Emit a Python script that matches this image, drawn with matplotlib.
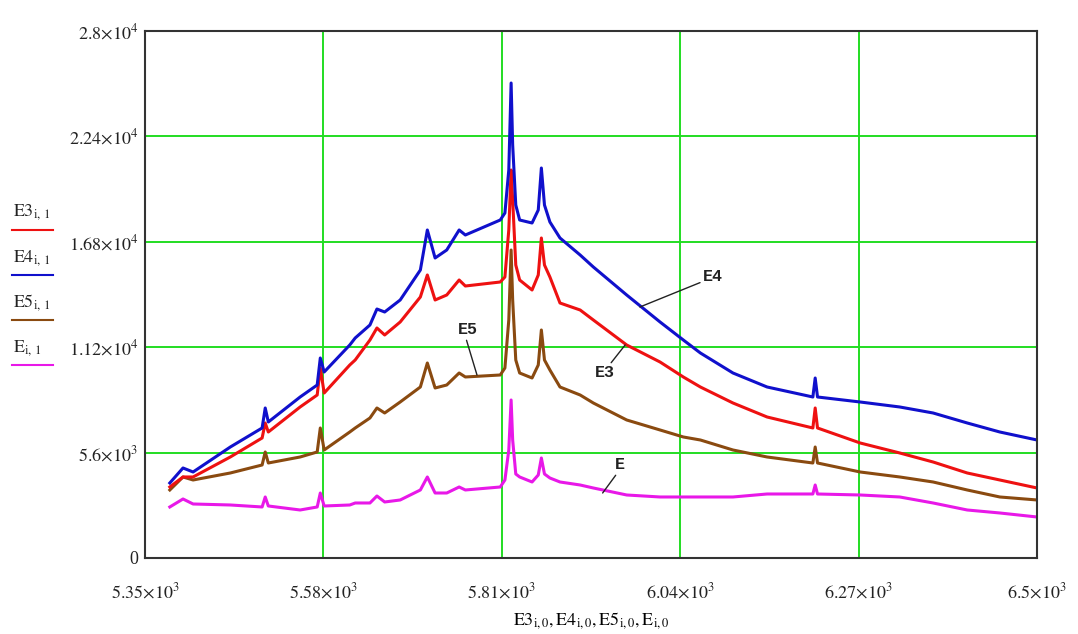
import matplotlib
matplotlib.use("Agg")
import matplotlib.pyplot as plt
from matplotlib.lines import Line2D
import numpy as np

# wavelength axis (shared by all four spectra)
wl = [5382, 5399, 5412, 5460, 5501, 5505, 5509, 5550, 5572, 5576, 5581,
      5614, 5621, 5640, 5649, 5659, 5679, 5705, 5714, 5724, 5739, 5755,
      5763, 5808, 5814, 5819, 5822, 5824, 5828, 5833, 5849, 5857, 5861,
      5865, 5872, 5885, 5911, 5928, 5971, 6014, 6044, 6066, 6108, 6152,
      6211, 6214, 6217, 6272, 6323, 6366, 6410, 6452, 6500]

e3 = [3772, 4304, 4304, 5366, 6376, 7173, 6694, 8023, 8660, 10095, 8766,
      10254, 10520, 11582, 12220, 11848, 12539, 13867, 15036, 13708, 13973, 14770,
      14451, 14664, 14930, 17427, 20614, 19021, 15567, 14770, 14239, 15036, 17002,
      15567, 14930, 13548, 13176, 12645, 11317, 10413, 9617, 9085, 8235, 7491,
      6907, 7970, 6907, 6110, 5579, 5100, 4516, 4144, 3719]

e4 = [3985, 4782, 4569, 5897, 6907, 7970, 7226, 8554, 9191, 10626, 9882,
      11317, 11689, 12379, 13229, 13070, 13708, 15301, 17427, 15939, 16364, 17427,
      17161, 17958, 18330, 20614, 25237, 21943, 18755, 17958, 17799, 18489, 20721,
      18755, 17852, 17002, 16098, 15461, 13973, 12539, 11582, 10892, 9829, 9085,
      8554, 9563, 8554, 8288, 8023, 7704, 7173, 6694, 6269]

e5 = [3613, 4304, 4144, 4516, 4941, 5632, 5047, 5366, 5632, 6907, 5738,
      6694, 6907, 7438, 7970, 7704, 8288, 9085, 10360, 9032, 9191, 9829,
      9617, 9723, 10095, 12645, 16364, 13708, 10520, 9829, 9563, 10254, 12114,
      10520, 9988, 9085, 8660, 8235, 7332, 6801, 6429, 6269, 5738, 5366,
      5047, 5897, 5047, 4569, 4304, 4038, 3613, 3241, 3082]

e = [2710, 3135, 2869, 2816, 2710, 3241, 2763, 2550, 2710, 3453, 2763,
     2816, 2922, 2922, 3294, 2975, 3082, 3613, 4304, 3453, 3453, 3772,
     3613, 3772, 4144, 5738, 8395, 6269, 4463, 4304, 4038, 4410, 5313,
     4463, 4250, 4038, 3878, 3719, 3347, 3241, 3241, 3241, 3241, 3400,
     3400, 3878, 3400, 3347, 3241, 2922, 2550, 2391, 2178]

x_ticks = [5350, 5580, 5810, 6040, 6270, 6500]
x_tick_labels = ["5.35", "5.58", "5.81", "6.04", "6.27", "6.5"]
y_ticks = [0, 5600, 11200, 16800, 22400, 28000]
y_tick_labels = ["0", "5.6", "1.12", "1.68", "2.24", "2.8"]
y_tick_exp = [None, 3, 4, 4, 4, 4]

names = ["E3", "E4", "E5", "E"]
colors = ["#ee1111", "#1010cc", "#8a4a10", "#e818e8"]

plt.rcParams["font.family"] = ["Liberation Serif", "DejaVu Serif"]
plt.rcParams["mathtext.fontset"] = "stix"

fig = plt.figure(figsize=(10.78, 6.34), dpi=100)
ax = fig.add_axes([0.1345, 0.1199, 0.8275, 0.8312])

# draw the spectra, back to front like the original
for series, c in zip([e, e5, e3, e4], [colors[3], colors[2], colors[0], colors[1]]):
    ax.plot(wl, series, color=c, lw=2.2)

ax.set_xlim(5350, 6500)
ax.set_ylim(0, 28000)
ax.set_xticks(x_ticks)
ax.set_yticks(y_ticks)
ax.set_xticklabels([r"$%s{\times}10^{3}$" % t for t in x_tick_labels])
ylabs = []
for t, p in zip(y_tick_labels, y_tick_exp):
    ylabs.append(t if p is None else r"$%s{\times}10^{%d}$" % (t, p))
ax.set_yticklabels(ylabs)
ax.tick_params(length=0, labelsize=13, colors="#222222")
ax.tick_params(axis="x", pad=17)
ax.tick_params(axis="y", pad=5)
ax.grid(True, color="#22dd22", lw=1.4)
ax.set_axisbelow(True)
for s in ax.spines.values():
    s.set_color("#333333")
    s.set_linewidth(1.5)

ax.set_xlabel(r"$\mathrm{E3}_{\mathrm{i,0}},\mathrm{E4}_{\mathrm{i,0}},"
              r"\mathrm{E5}_{\mathrm{i,0}},\mathrm{E}_{\mathrm{i,0}}$",
              fontsize=13, labelpad=6)

# Mathcad style legend: name on top, coloured line under it
leg_y = [0.650, 0.578, 0.507, 0.436]
for n, c, y in zip(names, colors, leg_y):
    fig.text(0.012, y, r"$\mathrm{%s}_{\mathrm{i,\,1}}$" % n, fontsize=13,
             va="bottom", ha="left", color="#222222")
    fig.add_artist(Line2D([0.011, 0.049], [y - 0.012, y - 0.012], color=c, lw=1.5))

# curve labels with leader lines
lab_kw = dict(fontsize=12, family="Liberation Mono", weight="bold", color="#222222",
              ha="center", va="center")
ax.annotate("E4", xy=(5988, 13336), xytext=(6082, 14930),
            arrowprops=dict(arrowstyle="-", color="#222222", lw=1, relpos=(0, 0.2),
                            shrinkA=0, shrinkB=0), **lab_kw)
ax.annotate("E3", xy=(5969, 11317), xytext=(5943, 9829),
            arrowprops=dict(arrowstyle="-", color="#222222", lw=1, relpos=(0.7, 1),
                            shrinkA=0, shrinkB=0), **lab_kw)
ax.annotate("E5", xy=(5778, 9723), xytext=(5766, 12114),
            arrowprops=dict(arrowstyle="-", color="#222222", lw=1, relpos=(0.4, 0),
                            shrinkA=0, shrinkB=0), **lab_kw)
ax.annotate("E", xy=(5940, 3453), xytext=(5962, 4941),
            arrowprops=dict(arrowstyle="-", color="#222222", lw=1, relpos=(0.3, 0),
                            shrinkA=0, shrinkB=0), **lab_kw)

fig.savefig("out.png", dpi=100)
